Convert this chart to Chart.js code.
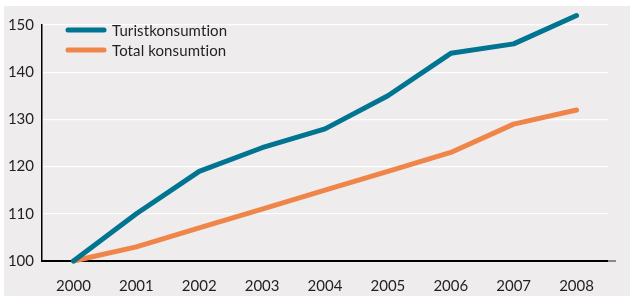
<!DOCTYPE html>
<html>
<head>
<meta charset="utf-8">
<script src="https://cdn.jsdelivr.net/npm/chart.js@4"></script>
<style>
  html, body { margin: 0; padding: 0; background: #ffffff; }
  #wrap { width: 630px; height: 296px; }
</style>
</head>
<body>
<div id="wrap"><canvas id="myChart" width="630" height="296"></canvas></div>
<script>
// Data
const years = ['2000', '2001', '2002', '2003', '2004', '2005', '2006', '2007', '2008'];
const turistkonsumtion = [100, 110, 119, 124, 128, 135, 144, 146, 152];
const totalKonsumtion = [100, 103, 107, 111, 115, 119, 123, 129, 132];
const yTicks = [100, 110, 120, 130, 140, 150];

const tealColor = '#007491';
const orangeColor = '#ef8549';
const textColor = '#231f20';
const fontFamily = 'Lato, "Open Sans", sans-serif';

// Grey panel behind the chart
const panelBackground = {
  id: 'panelBackground',
  beforeDraw(chart) {
    const ctx = chart.ctx;
    ctx.save();
    ctx.fillStyle = '#eeeced';
    ctx.fillRect(4, 6, chart.width - 4, chart.height - 6);
    ctx.restore();
  }
};

// Legend drawn inside the plot, top left
const insideLegend = {
  id: 'insideLegend',
  afterDraw(chart) {
    const ctx = chart.ctx;
    const area = chart.chartArea;
    ctx.save();
    // short grey stub past the end of the baseline
    ctx.strokeStyle = '#8a8a8a';
    ctx.lineWidth = 2;
    ctx.beginPath();
    ctx.moveTo(area.right, area.bottom);
    ctx.lineTo(area.right + 8, area.bottom);
    ctx.stroke();

    ctx.font = '15px ' + fontFamily;
    ctx.letterSpacing = '0.1px'; // keeps "ti" from turning into a ligature
    ctx.textBaseline = 'middle';
    ctx.lineCap = 'round';
    chart.data.datasets.forEach((ds, i) => {
      const y = area.top + 5 + i * 20;
      ctx.strokeStyle = ds.borderColor;
      ctx.lineWidth = 5;
      ctx.beginPath();
      ctx.moveTo(area.left + 26, y);
      ctx.lineTo(area.left + 62, y);
      ctx.stroke();
      ctx.fillStyle = textColor;
      ctx.fillText(ds.label, area.left + 70, y + 1);
    });
    ctx.restore();
  }
};

const myChart = document.getElementById('myChart');

let lineChart = new Chart(myChart, {
  type: 'line',
  data: {
    labels: years,
    datasets: [{
      label: 'Turistkonsumtion',
      data: turistkonsumtion,
      borderColor: tealColor,
      borderWidth: 5,
      borderCapStyle: 'round',
      borderJoinStyle: 'round',
      pointRadius: 0,
      tension: 0,
      clip: false
    }, {
      label: 'Total konsumtion',
      data: totalKonsumtion,
      borderColor: orangeColor,
      borderWidth: 5,
      borderCapStyle: 'round',
      borderJoinStyle: 'round',
      pointRadius: 0,
      tension: 0,
      clip: false
    }]
  },
  options: {
    responsive: false,
    animation: false,
    layout: {
      padding: { left: 0, top: 25, right: 22, bottom: 0 }
    },
    plugins: {
      legend: { display: false },
      tooltip: { enabled: false }
    },
    scales: {
      x: {
        offset: true,
        grid: { display: false },
        border: { display: true, color: '#000000', width: 2 },
        ticks: {
          color: textColor,
          font: { family: fontFamily, size: 15 },
          padding: 8,
          maxRotation: 0
        },
        afterFit(scale) { scale.height = 35; }
      },
      y: {
        min: 100,
        max: 150,
        afterBuildTicks(scale) {
          scale.ticks = yTicks.map(v => ({ value: v }));
        },
        grid: {
          color: '#ffffff',
          lineWidth: 1.2,
          drawTicks: false
        },
        border: { display: true, color: '#000000', width: 1.5 },
        ticks: {
          color: textColor,
          font: { family: fontFamily, size: 15 },
          padding: 8
        },
        afterFit(scale) { scale.width = 42; }
      }
    }
  },
  plugins: [panelBackground, insideLegend]
});
</script>
</body>
</html>
